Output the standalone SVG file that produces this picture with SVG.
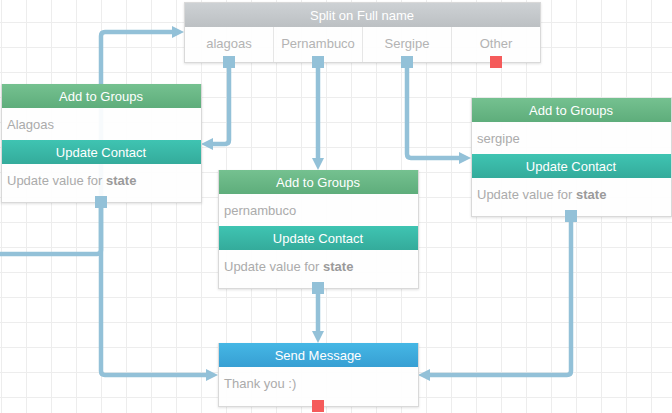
<svg xmlns="http://www.w3.org/2000/svg" width="672" height="413" viewBox="0 0 672 413">
<defs>
<pattern id="grid" x="1" y="22" width="25" height="25" patternUnits="userSpaceOnUse">
<path d="M0,0.5 H25 M0.5,0 V25" fill="none" stroke="#ededed" stroke-width="1"/>
</pattern>
<linearGradient id="gGreen" x1="0" y1="0" x2="0" y2="1"><stop offset="0" stop-color="#75c190"/><stop offset="1" stop-color="#5ead7b"/></linearGradient>
<linearGradient id="gTeal" x1="0" y1="0" x2="0" y2="1"><stop offset="0" stop-color="#3fc4b2"/><stop offset="1" stop-color="#34ab9b"/></linearGradient>
<linearGradient id="gBlue" x1="0" y1="0" x2="0" y2="1"><stop offset="0" stop-color="#45b7e5"/><stop offset="1" stop-color="#379fd3"/></linearGradient>
<linearGradient id="gGray" x1="0" y1="0" x2="0" y2="1"><stop offset="0" stop-color="#cdd1d4"/><stop offset="1" stop-color="#bcc0c3"/></linearGradient>
<marker id="arr" viewBox="0 0 12 12" refX="4" refY="6" markerWidth="12" markerHeight="12" markerUnits="userSpaceOnUse" orient="auto">
<path d="M0,0 L12,6 L0,12 z" fill="#93c1d8"/>
</marker>
<filter id="sh" x="-5%" y="-5%" width="110%" height="115%">
<feDropShadow dx="0" dy="1" stdDeviation="1" flood-color="#000" flood-opacity="0.12"/>
</filter>
</defs>
<style>
.t{font-family:"Liberation Sans",Arial,Helvetica,sans-serif;font-size:13px}
.h{fill:#ffffff;text-anchor:middle}
.b{fill:#ababab}
.bb{fill:#9a9a9a;font-weight:bold}
.c{fill:#b3b3b3;text-anchor:middle}
.body{fill:#ffffff;fill-opacity:0.93;stroke:#d9d9d9;stroke-width:1}
.con{fill:none;stroke:#93c1d8;stroke-width:4.5;marker-end:url(#arr)}
.con2{fill:none;stroke:#93c1d8;stroke-width:4.5}
.ex{fill:#93c1d8}
.exr{fill:#f55b5b}
.div{stroke:#e6e6e6;stroke-width:1}
</style>
<rect width="672" height="413" fill="#ffffff"/>
<rect width="672" height="413" fill="url(#grid)"/>

<g id="connectors">
<path class="con" d="M0,254 H97 Q101,254 101,250 V36 Q101,32 105,32 H176"/>
<path class="con" d="M229,66 V140 Q229,144 225,144 H209"/>
<path class="con" d="M318,66 V162"/>
<path class="con" d="M407,66 V154 Q407,158 411,158 H463"/>
<path class="con" d="M101,202 V371 Q101,375 105,375 H210"/>
<path class="con" d="M318,288 V335"/>
<path class="con" d="M571,216 V371 Q571,375 567,375 H426"/>
</g>

<g id="split">
<rect class="body" x="184.5" y="2.5" width="356" height="60" filter="url(#sh)"/>
<rect x="185" y="3" width="355" height="24" fill="url(#gGray)"/>
<text class="t h" x="362" y="19.5">Split on Full name</text>
<line class="div" x1="273.5" y1="27" x2="273.5" y2="62"/>
<line class="div" x1="362.5" y1="27" x2="362.5" y2="62"/>
<line class="div" x1="451.5" y1="27" x2="451.5" y2="62"/>
<text class="t c" x="229" y="47.5">alagoas</text>
<text class="t c" x="318" y="47.5">Pernambuco</text>
<text class="t c" x="407" y="47.5">Sergipe</text>
<text class="t c" x="496" y="47.5">Other</text>
<rect class="ex" x="223" y="56" width="12" height="12"/>
<rect class="ex" x="312" y="56" width="12" height="12"/>
<rect class="ex" x="401" y="56" width="12" height="12"/>
<rect class="exr" x="490" y="56" width="12" height="12"/>
</g>

<g id="groups-alagoas">
<rect class="body" x="1.5" y="84.5" width="200" height="118" filter="url(#sh)"/>
<rect x="2" y="84" width="199" height="24" fill="url(#gGreen)"/>
<text class="t h" x="101" y="100.5">Add to Groups</text>
<text class="t b" x="7" y="128.5">Alagoas</text>
<rect x="2" y="140" width="199" height="24" fill="url(#gTeal)"/>
<text class="t h" x="101" y="156.5">Update Contact</text>
<text class="t b" x="7" y="184.5">Update value for <tspan class="bb">state</tspan></text>
<rect class="ex" x="95" y="196" width="12" height="12"/>
</g>

<g id="groups-pernambuco">
<rect class="body" x="218.5" y="170.5" width="200" height="118" filter="url(#sh)"/>
<rect x="219" y="170" width="199" height="24" fill="url(#gGreen)"/>
<text class="t h" x="318" y="186.5">Add to Groups</text>
<text class="t b" x="224" y="214.5">pernambuco</text>
<rect x="219" y="226" width="199" height="24" fill="url(#gTeal)"/>
<text class="t h" x="318" y="242.5">Update Contact</text>
<text class="t b" x="224" y="270.5">Update value for <tspan class="bb">state</tspan></text>
<rect class="ex" x="312" y="282" width="12" height="12"/>
</g>

<g id="groups-sergipe">
<rect class="body" x="471.5" y="98.5" width="200" height="118" filter="url(#sh)"/>
<rect x="472" y="98" width="199" height="24" fill="url(#gGreen)"/>
<text class="t h" x="571" y="114.5">Add to Groups</text>
<text class="t b" x="477" y="142.5">sergipe</text>
<rect x="472" y="154" width="199" height="24" fill="url(#gTeal)"/>
<text class="t h" x="571" y="170.5">Update Contact</text>
<text class="t b" x="477" y="198.5">Update value for <tspan class="bb">state</tspan></text>
<rect class="ex" x="565" y="210" width="12" height="12"/>
</g>

<g id="send-message">
<rect class="body" x="218.5" y="343.5" width="200" height="63" filter="url(#sh)"/>
<rect x="219" y="343" width="199" height="24" fill="url(#gBlue)"/>
<text class="t h" x="318" y="359.5">Send Message</text>
<text class="t b" x="224" y="388">Thank you :)</text>
<rect class="exr" x="312" y="400" width="12" height="12"/>
</g>
</svg>
